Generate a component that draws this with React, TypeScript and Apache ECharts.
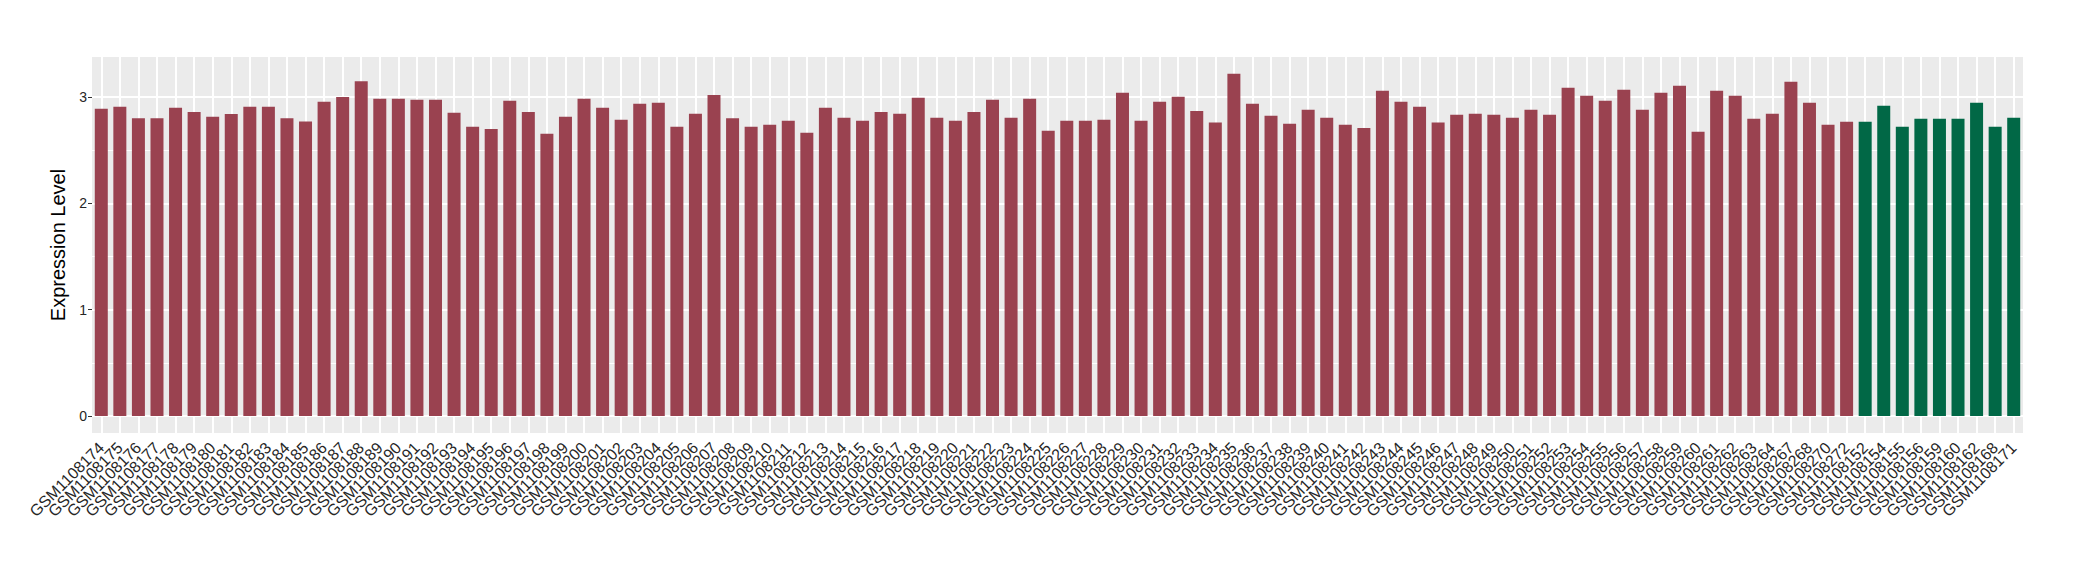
import React, { useEffect, useRef } from "react";
import * as echarts from "echarts";

const redSamples = [
  "GSM1108174","GSM1108175","GSM1108176","GSM1108177","GSM1108178","GSM1108179","GSM1108180","GSM1108181","GSM1108182","GSM1108183",
  "GSM1108184","GSM1108185","GSM1108186","GSM1108187","GSM1108188","GSM1108189","GSM1108190","GSM1108191","GSM1108192","GSM1108193",
  "GSM1108194","GSM1108195","GSM1108196","GSM1108197","GSM1108198","GSM1108199","GSM1108200","GSM1108201","GSM1108202","GSM1108203",
  "GSM1108204","GSM1108205","GSM1108206","GSM1108207","GSM1108208","GSM1108209","GSM1108210","GSM1108211","GSM1108212","GSM1108213",
  "GSM1108214","GSM1108215","GSM1108216","GSM1108217","GSM1108218","GSM1108219","GSM1108220","GSM1108221","GSM1108222","GSM1108223",
  "GSM1108224","GSM1108225","GSM1108226","GSM1108227","GSM1108228","GSM1108229","GSM1108230","GSM1108231","GSM1108232","GSM1108233",
  "GSM1108234","GSM1108235","GSM1108236","GSM1108237","GSM1108238","GSM1108239","GSM1108240","GSM1108241","GSM1108242","GSM1108243",
  "GSM1108244","GSM1108245","GSM1108246","GSM1108247","GSM1108248","GSM1108249","GSM1108250","GSM1108251","GSM1108252","GSM1108253",
  "GSM1108254","GSM1108255","GSM1108256","GSM1108257","GSM1108258","GSM1108259","GSM1108260","GSM1108261","GSM1108262","GSM1108263",
  "GSM1108264","GSM1108267","GSM1108268","GSM1108270","GSM1108272",
];
const redValues = [
  2.89, 2.91, 2.80, 2.80, 2.90, 2.86, 2.815, 2.84, 2.91, 2.91,
  2.80, 2.77, 2.955, 3.00, 3.15, 2.985, 2.985, 2.975, 2.975, 2.853,
  2.72, 2.70, 2.965, 2.86, 2.655, 2.815, 2.985, 2.90, 2.787, 2.937,
  2.947, 2.72, 2.843, 3.02, 2.80, 2.72, 2.74, 2.777, 2.665, 2.90,
  2.806, 2.777, 2.86, 2.843, 2.994, 2.806, 2.777, 2.86, 2.975, 2.806,
  2.985, 2.683, 2.777, 2.777, 2.787, 3.04, 2.777, 2.956, 3.003, 2.87,
  2.76, 3.22, 2.937, 2.824, 2.75, 2.88, 2.806, 2.74, 2.71, 3.06,
  2.956, 2.91, 2.76, 2.834, 2.843, 2.834, 2.806, 2.88, 2.834, 3.088,
  3.013, 2.965, 3.07, 2.88, 3.04, 3.107, 2.674, 3.06, 3.013, 2.796,
  2.843, 3.144, 2.947, 2.74, 2.768,
];
const greenSamples = [
  "GSM1108152","GSM1108154","GSM1108155","GSM1108156","GSM1108159","GSM1108160","GSM1108162","GSM1108168","GSM1108171",
];
const greenValues = [2.768, 2.918, 2.72, 2.796, 2.796, 2.796, 2.947, 2.72, 2.806];

const yTicks = [0, 1, 2, 3];
const yMinor = [0.5, 1.5, 2.5];
const yName = "Expression Level";

const RED = "#9a4250";
const GREEN = "#016846";
const FONT = "Liberation Sans, Arial, Helvetica, sans-serif";

export default function App() {
  const ref = useRef<HTMLDivElement>(null);
  useEffect(() => {
    document.body.style.margin = "0";
    if (!ref.current) return;
    const chart = echarts.init(ref.current, null, { renderer: "svg" });
    const categories = [...redSamples, ...greenSamples];
    const data = [
      ...redValues.map((v) => ({ value: v, itemStyle: { color: RED } })),
      ...greenValues.map((v) => ({ value: v, itemStyle: { color: GREEN } })),
    ];
    const gridLines: any[] = [
      ...yTicks.map((v) => ({ yAxis: v, lineStyle: { width: 2 } })),
      ...yMinor.map((v) => ({ yAxis: v, lineStyle: { width: 1 } })),
      ...categories.map((c) => ({ xAxis: c, lineStyle: { width: 2 } })),
    ];
    chart.setOption({
      animation: false,
      grid: {
        left: 92,
        right: 57,
        top: 57,
        bottom: 147,
        show: true,
        backgroundColor: "#ebebeb",
        borderWidth: 0,
        containLabel: false,
        outerBoundsMode: "none",
      },
      xAxis: {
        type: "category",
        data: categories,
        axisLine: { show: false },
        axisTick: { show: true, alignWithLabel: true, interval: 0, length: 4, lineStyle: { color: "#333333", width: 1 } },
        axisLabel: {
          interval: 0,
          rotate: 45,
          margin: 12,
          fontSize: 16,
          color: "#262626",
          fontFamily: FONT,
        },
        splitLine: { show: false },
      },
      yAxis: {
        type: "value",
        min: -0.16,
        max: 3.377,
        name: yName,
        nameLocation: "middle",
        nameGap: 17,
        nameTextStyle: { fontSize: 20, color: "#000000", fontFamily: FONT },
        axisLine: { show: false },
        axisTick: { show: true, length: 4, customValues: yTicks, lineStyle: { color: "#333333", width: 1 } },
        axisLabel: { customValues: yTicks, fontSize: 14, color: "#262626", margin: 5, fontFamily: FONT },
        splitLine: { show: false },
      },
      series: [
        {
          type: "bar",
          data,
          barWidth: "70%",
          z: 2,
          markLine: {
            silent: true,
            symbol: ["none", "none"],
            z: 1,
            label: { show: false },
            lineStyle: { color: "#ffffff", type: "solid", width: 2 },
            emphasis: { disabled: true },
            data: gridLines,
          },
        },
      ],
    });
    return () => chart.dispose();
  }, []);
  return <div ref={ref} style={{ width: 2080, height: 580 }} />;
}
